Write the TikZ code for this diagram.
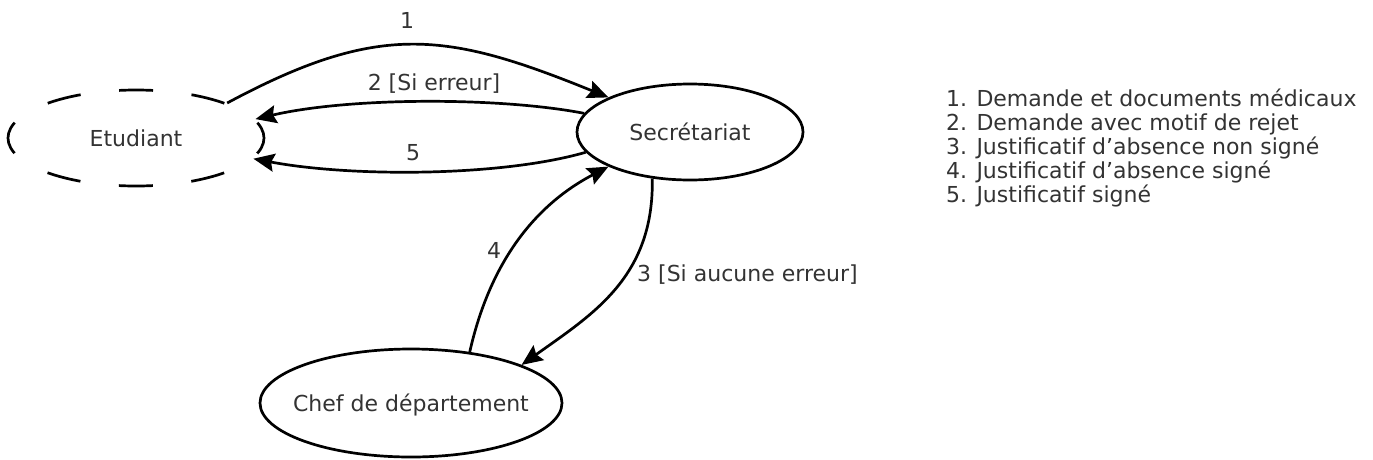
\documentclass[tikz,border=0pt]{standalone}
\usepackage{fontspec}
\setmainfont{DejaVu Sans}
\usetikzlibrary{shapes.geometric,arrows.meta}
\begin{document}
\begin{tikzpicture}[x=1pt,y=-1pt,
  every node/.style={font=\fontsize{22}{24}\selectfont, text=black!80},
  state/.style={ellipse, draw=black, line width=2.7pt, inner sep=0pt, text height=16pt, text depth=0pt},
  lbl/.style={inner sep=0pt, text height=16pt, text depth=0pt},
  legend/.style={inner sep=0pt, anchor=base west},
  flow/.style={line width=2.7pt, -{Stealth[length=21pt,width=18pt,inset=3pt]}},
  ]
\useasboundingbox (0,0) rectangle (1373,459);
% states
\node[state, minimum width=256pt, minimum height=96pt,
      dash pattern={on 34pt off 38.7pt}, dash phase=17pt] (etu) at (136,138) {\makebox[0pt][c]{Etudiant}};
\node[state, minimum width=226pt, minimum height=96pt] (sec) at (690,132) {\makebox[0pt][c]{Secrétariat}};
\node[state, minimum width=302pt, minimum height=108pt] (chef) at (411,403) {\makebox[0pt][c]{Chef de département}};
% connectors
\draw[flow] (etu.21) .. controls (380,21) and (447,32) .. (sec.157.4);
\draw[flow] (sec.170.2) .. controls (500,97) and (350,97) .. (etu.9.5);
\draw[flow] (sec.191) .. controls (500,177) and (350,177) .. (etu.-10);
\draw[flow] (chef.41.4) .. controls (490,262) and (535,205) .. (sec.203.6);
\draw[flow] (sec.231.2) .. controls (654,277) and (593,314) .. (chef.19.2);
% connector labels
\node[lbl] (l1) at (407,20) {1};
\node[lbl] (l2) at (434,82) {2 [Si erreur]};
\node[lbl] (l5) at (413,152) {5};
\node[lbl] (l4) at (494,250) {4};
\node[lbl, anchor=west] (l3) at (637,273) {3 [Si aucune erreur]};
% legend
\node[legend] (g1) at (946,106) {1. Demande et documents médicaux};
\node[legend] (g2) at (946,130) {2. Demande avec motif de rejet};
\node[legend] (g3) at (946,154) {3. Justificatif d'absence non signé};
\node[legend] (g4) at (946,178) {4. Justificatif d'absence signé};
\node[legend] (g5) at (946,202) {5. Justificatif signé};
\end{tikzpicture}
\end{document}
